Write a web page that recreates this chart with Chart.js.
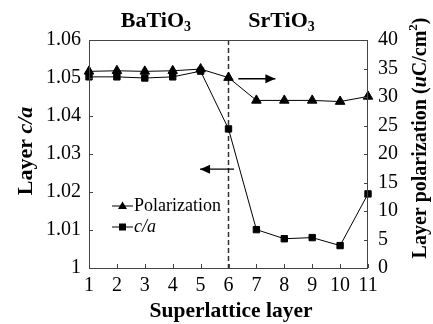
<!DOCTYPE html>
<html>
<head>
<meta charset="utf-8">
<script src="https://cdn.jsdelivr.net/npm/chart.js@4/dist/chart.umd.min.js"></script>
<style>
html,body{margin:0;padding:0;background:#fff;}
#wrap{width:433px;height:324px;position:relative;}
</style>
</head>
<body>
<div id="wrap"><canvas id="c" width="433" height="324"></canvas></div>
<script>
const layers = ['1','2','3','4','5','6','7','8','9','10','11'];
const caValues = [1.0503, 1.0503, 1.0500, 1.0503, 1.0518, 1.0366, 1.0101, 1.0077, 1.0080, 1.0059, 1.0195];
const polarizationValues = [34.5, 34.6, 34.5, 34.6, 34.9, 33.4, 29.4, 29.4, 29.4, 29.2, 30.1];
const leftTicks = [1, 1.01, 1.02, 1.03, 1.04, 1.05, 1.06];
const leftTickLabels = ['1', '1.01', '1.02', '1.03', '1.04', '1.05', '1.06'];
const rightTicks = [0, 5, 10, 15, 20, 25, 30, 35, 40];
const boundaryLayer = 6;
const regionLabels = [{name:'BaTiO', sub:'3', x:3.4}, {name:'SrTiO', sub:'3', x:7.9}];

const SERIF = '"Liberation Serif", "Times New Roman", serif';

function drawRich(ctx, segs, size) {
  let total = 0;
  const parts = segs.map(s => {
    const fs = (s.sub || s.sup) ? Math.round(size * 0.65) : size;
    const font = (s.italic ? 'italic ' : '') + (s.bold ? 'bold ' : '') + fs + 'px ' + SERIF;
    ctx.font = font;
    const w = ctx.measureText(s.text).width;
    total += w;
    return {s, font, w};
  });
  let x = -total / 2;
  ctx.textBaseline = 'middle';
  ctx.textAlign = 'left';
  for (const p of parts) {
    ctx.font = p.font;
    let dy = 0;
    if (p.s.sub) dy = size * 0.3;
    if (p.s.sup) dy = -size * 0.38;
    ctx.fillText(p.s.text, x, dy);
    x += p.w;
  }
  return total;
}

function arrow(ctx, x1, y1, x2, y2) {
  ctx.beginPath();
  ctx.moveTo(x1, y1);
  ctx.lineTo(x2, y2);
  ctx.stroke();
  const dir = Math.sign(x2 - x1);
  ctx.beginPath();
  ctx.moveTo(x2, y2);
  ctx.lineTo(x2 - dir * 10, y2 - 4.5);
  ctx.lineTo(x2 - dir * 10, y2 + 4.5);
  ctx.closePath();
  ctx.fill();
}

const extras = {
  id: 'extras',
  beforeDatasetsDraw(chart) {
    const {ctx, chartArea: a, scales} = chart;
    ctx.save();
    const bx = scales.x.getPixelForValue(layers.indexOf(String(boundaryLayer)));
    ctx.strokeStyle = '#333';
    ctx.lineWidth = 1.5;
    ctx.setLineDash([5, 3]);
    ctx.beginPath();
    ctx.moveTo(bx, a.top);
    ctx.lineTo(bx, a.bottom);
    ctx.stroke();
    ctx.setLineDash([]);
    ctx.restore();
  },
  afterDraw(chart) {
    const {ctx, chartArea: a, scales} = chart;
    ctx.save();
    ctx.strokeStyle = '#444';
    ctx.lineWidth = 1;
    ctx.strokeRect(a.left + 0.5, a.top + 0.5, a.right - a.left - 1, a.bottom - a.top);
    ctx.beginPath();
    layers.forEach((l, i) => {
      const px = Math.round(scales.x.getPixelForValue(i)) + 0.5;
      ctx.moveTo(px, a.bottom); ctx.lineTo(px, a.bottom - 4);
    });
    leftTicks.forEach(v => {
      const py = Math.round(scales.y.getPixelForValue(v)) + 0.5;
      ctx.moveTo(a.left, py); ctx.lineTo(a.left + 4, py);
    });
    rightTicks.forEach(v => {
      const py = Math.round(scales.y1.getPixelForValue(v)) + 0.5;
      ctx.moveTo(a.right, py); ctx.lineTo(a.right - 4, py);
    });
    ctx.stroke();

    ctx.strokeStyle = '#000';
    ctx.fillStyle = '#000';
    ctx.lineWidth = 1.3;
    const xs = scales.x;
    const xp = v => xs.getPixelForValue(0) + (v - 1) * (xs.getPixelForValue(1) - xs.getPixelForValue(0));
    const ry = scales.y1.getPixelForValue(33.2);
    arrow(ctx, xp(6.35), ry, xp(7.68), ry);
    const ly = scales.y.getPixelForValue(1.026);
    arrow(ctx, xp(6.2), ly, xp(4.98), ly);

    ctx.fillStyle = '#000';
    regionLabels.forEach(r => {
      ctx.save();
      ctx.translate(xp(r.x), 21);
      drawRich(ctx, [{text: r.name, bold: true}, {text: r.sub, bold: true, sub: true}], 22);
      ctx.restore();
    });

    ctx.save();
    ctx.translate(26, 151);
    ctx.rotate(-Math.PI / 2);
    drawRich(ctx, [{text: 'Layer ', bold: true}, {text: 'c/a', bold: true, italic: true}], 22);
    ctx.restore();

    ctx.save();
    ctx.translate(421, 138);
    ctx.rotate(-Math.PI / 2);
    drawRich(ctx, [{text: 'Layer polarization (', bold: true}, {text: 'u', bold: true, italic: true},
                   {text: 'C/cm', bold: true}, {text: '2', bold: true, sup: true}, {text: ')', bold: true}], 20);
    ctx.restore();

    ctx.save();
    ctx.translate(231, 311);
    drawRich(ctx, [{text: 'Superlattice layer', bold: true}], 21.5);
    ctx.restore();

    const lx = a.left + 23, rows = [{y: 206, label: [{text: 'Polarization'}], style: 'triangle'},
                                     {y: 227, label: [{text: 'c/a', italic: true}], style: 'rect'}];
    ctx.lineWidth = 1;
    rows.forEach(r => {
      ctx.beginPath();
      ctx.moveTo(lx, r.y); ctx.lineTo(lx + 21, r.y);
      ctx.stroke();
      const cx = lx + 10.5;
      ctx.beginPath();
      if (r.style === 'triangle') {
        ctx.moveTo(cx, r.y - 4.5); ctx.lineTo(cx + 4.5, r.y + 3); ctx.lineTo(cx - 4.5, r.y + 3);
        ctx.closePath();
      } else {
        ctx.rect(cx - 3.5, r.y - 3.5, 7, 7);
      }
      ctx.fill();
      ctx.save();
      let tw = 0;
      r.label.forEach(s => { ctx.font = (s.italic ? 'italic ' : '') + '18px ' + SERIF; tw += ctx.measureText(s.text).width; });
      ctx.translate(lx + 22 + tw / 2, r.y);
      drawRich(ctx, r.label, 18);
      ctx.restore();
    });
    ctx.restore();
  }
};

new Chart(document.getElementById('c'), {
  type: 'line',
  data: {
    labels: layers,
    datasets: [
      {
        label: 'Polarization', data: polarizationValues, yAxisID: 'y1',
        borderColor: '#000', backgroundColor: '#000', borderWidth: 1,
        pointStyle: 'triangle', pointRadius: 5.5, pointHoverRadius: 5.5, tension: 0
      },
      {
        label: 'c/a', data: caValues, yAxisID: 'y',
        borderColor: '#000', backgroundColor: '#000', borderWidth: 1,
        pointStyle: 'rect', pointRadius: 4.5, pointHoverRadius: 4.5, tension: 0
      }
    ]
  },
  options: {
    responsive: false,
    animation: false,
    layout: {padding: {top: 40, left: 0, right: 0, bottom: 0}},
    plugins: {legend: {display: false}, tooltip: {enabled: false}},
    scales: {
      x: {
        type: 'category', offset: false,
        grid: {display: false, drawTicks: false},
        border: {display: false},
        ticks: {color: '#000', font: {family: SERIF, size: 20}, padding: 6, maxRotation: 0, autoSkip: false},
        afterFit: s => { s.height = 56; }
      },
      y: {
        position: 'left', min: 1, max: 1.06,
        afterBuildTicks: s => { s.ticks = leftTicks.map(v => ({value: v})); },
        grid: {display: false, drawTicks: false},
        border: {display: false},
        ticks: {color: '#000', font: {family: SERIF, size: 20}, padding: 8,
                callback: v => leftTickLabels[leftTicks.findIndex(t => Math.abs(t - v) < 1e-6)]},
        afterFit: s => { s.width = 89; }
      },
      y1: {
        position: 'right', min: 0, max: 40,
        afterBuildTicks: s => { s.ticks = rightTicks.map(v => ({value: v})); },
        grid: {display: false, drawTicks: false},
        border: {display: false},
        ticks: {color: '#000', font: {family: SERIF, size: 20}, padding: 10},
        afterFit: s => { s.width = 65; }
      }
    }
  },
  plugins: [extras]
});
</script>
</body>
</html>
